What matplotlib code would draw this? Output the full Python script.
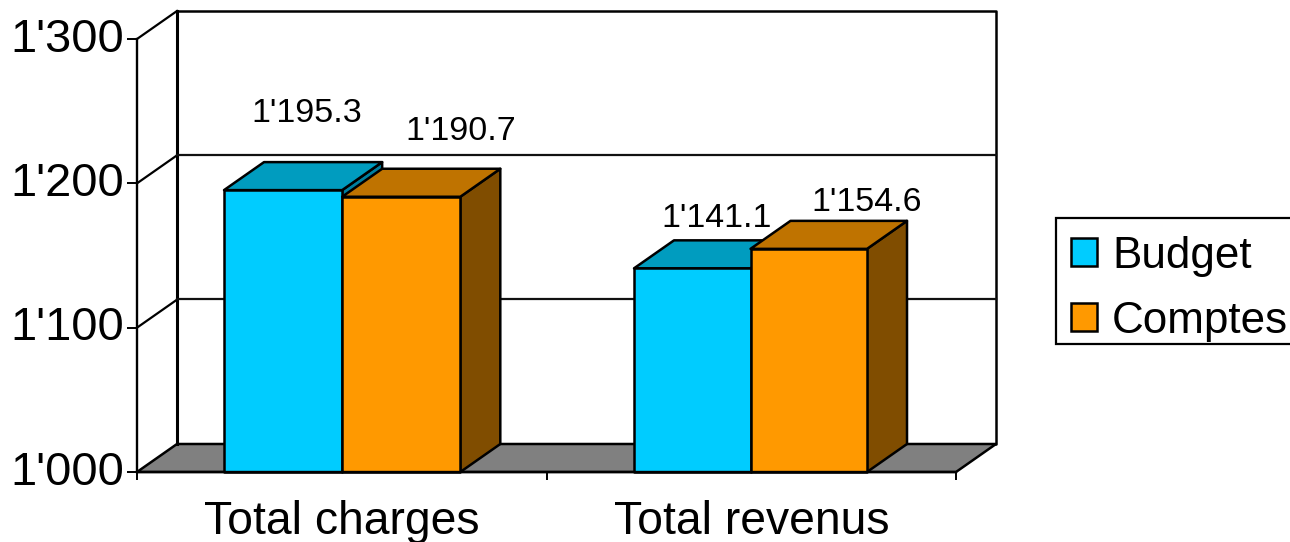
from matplotlib import pyplot as plt
from matplotlib.patches import Patch, Polygon, Rectangle
from matplotlib.transforms import ScaledTranslation

plt.rcParams['font.family'] = ['Liberation Sans', 'DejaVu Sans']

categories = ['Total charges', 'Total revenus']
series_names = ['Budget', 'Comptes']
budget = [1195.3, 1141.1]
comptes = [1190.7, 1154.6]
value_labels = [["1'195.3", "1'141.1"], ["1'190.7", "1'154.6"]]
y_ticks = [1000, 1100, 1200, 1300]
y_tick_labels = ["1'000", "1'100", "1'200", "1'300"]

# face, top, side
colors = [('#00CCFF', '#009CBF', '#007F9F'), ('#FF9900', '#BF7300', '#804D00')]

W, H = 1290, 542
left, right, bottom, top = 137, 956, 472, 39
dx = 40 / 409.5      # depth of the 3d box, data units
dy = 28 / 1.443
bar_w = [0.2885, 0.2845]
group_start = [0.2125, 1.2137]
# label offset from the top centre of each bar, in pixels
label_offset = [[(24, 77), (24, 50)], [(60, 65), (58, 46)]]

fig = plt.figure(figsize=(W / 100, H / 100), dpi=100)
ax = fig.add_axes([left / W, 1 - bottom / H, (right - left) / W, (bottom - top) / H])
ax.set_xlim(0, 2)
ax.set_ylim(1000, 1300)
ax.patch.set_alpha(0)


def face(points, color, z, lw=1.8):
    ax.add_patch(Polygon(points, closed=True, fc=color, ec='black', lw=lw,
                         joinstyle='round', clip_on=False, zorder=z))


# walls and floor
face([(dx, 1000 + dy), (2 + dx, 1000 + dy), (2 + dx, 1300 + dy), (dx, 1300 + dy)], 'white', 1, 1.8)
face([(0, 1000), (dx, 1000 + dy), (2 + dx, 1000 + dy), (2, 1000)], '#808080', 2, 1.8)
ax.plot([dx, dx], [1000 + dy, 1300 + dy], color='black', lw=2.2, clip_on=False, zorder=2)
for t in y_ticks[1:]:
    ax.plot([0, dx], [t, t + dy], color='black', lw=1.6, clip_on=False, zorder=2)
    if t < 1300:
        ax.plot([dx, 2 + dx], [t + dy + 0.4, t + dy + 0.4], color='#111111', lw=1.6, clip_on=False, zorder=2)

# bars
for i, values in enumerate([budget, comptes]):
    face_c, top_c, side_c = colors[i]
    for j, v in enumerate(values):
        x0 = group_start[j] + i * bar_w[j]
        x1 = x0 + bar_w[j]
        z = 3 + i
        face([(x1, 1000), (x1 + dx, 1000 + dy), (x1 + dx, v + dy), (x1, v)], side_c, z)
        face([(x0, v), (x0 + dx, v + dy), (x1 + dx, v + dy), (x1, v)], top_c, z)
        face([(x0, 1000), (x1, 1000), (x1, v), (x0, v)], face_c, z)
        ax.annotate(value_labels[i][j], xy=((x0 + x1) / 2, v),
                    xytext=label_offset[i][j], textcoords='offset pixels',
                    ha='center', va='center', fontsize=24.5, color='black',
                    annotation_clip=False, zorder=6)

for name in ['top', 'right']:
    ax.spines[name].set_visible(False)
for name in ['left', 'bottom']:
    ax.spines[name].set_linewidth(1.7)
    ax.spines[name].set_zorder(5)

ax.set_yticks(y_ticks, y_tick_labels, fontsize=33.8)
ax.tick_params(axis='y', length=7.5, width=1.4, pad=1.5)
# nudge the y labels up a little
up = ScaledTranslation(0, 3 / 72, fig.dpi_scale_trans)
for lab in ax.get_yticklabels():
    lab.set_transform(lab.get_transform() + up)
ax.set_xticks([0, 1, 2], ['', '', ''])
ax.tick_params(axis='x', which='major', length=6, width=1.4)
ax.set_xticks([0.5, 1.5], categories, minor=True, fontsize=33.3)
ax.tick_params(axis='x', which='minor', length=0, pad=20)

# legend box is drawn apart, the real one is taller than the reference
fig.add_artist(Rectangle((1056 / W, 1 - 344 / H), 260 / W, 126 / H, fc='white', ec='black',
                         lw=1.6, transform=fig.transFigure, zorder=-1))
handles = [Patch(fc=colors[i][0], ec='black', lw=1.8) for i in range(2)]
ax.legend(handles, series_names, loc='upper left',
          bbox_to_anchor=(1056 / W, 1 - 221 / H), bbox_transform=fig.transFigure,
          fontsize=31.7, frameon=False,
          handlelength=0.61, handleheight=0.61, handletextpad=0.33,
          borderpad=0.33, labelspacing=0.55, borderaxespad=0)

fig.savefig('out.png', dpi=100)
